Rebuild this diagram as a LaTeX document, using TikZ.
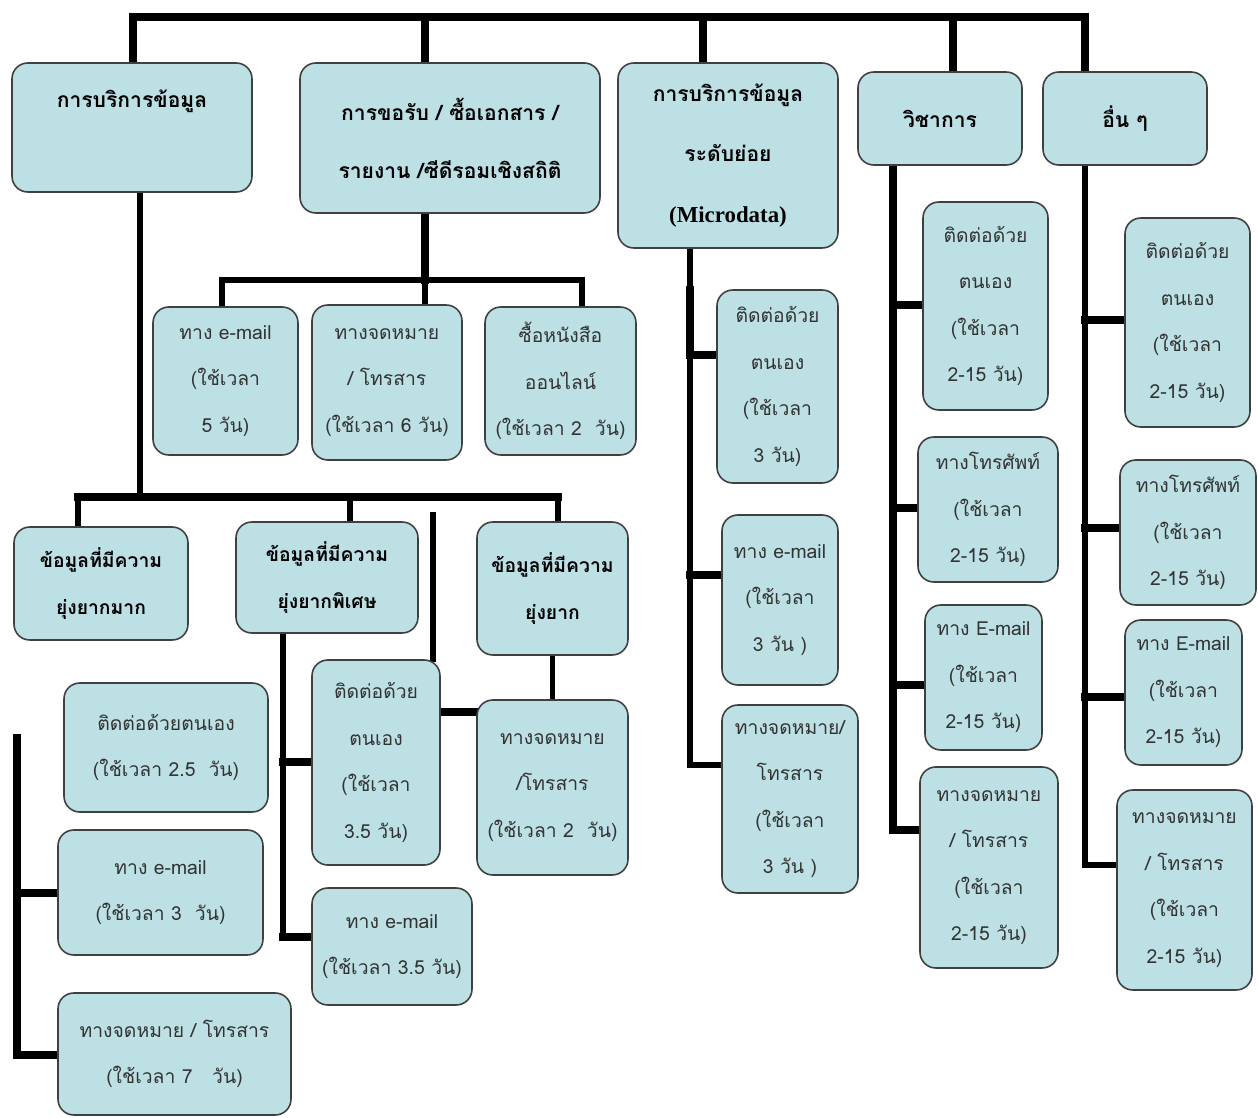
\documentclass[tikz,border=0pt]{standalone}
\usepackage{fontspec}
\setmainfont[Script=Thai]{Loma}
\newfontfamily\latinserif{Liberation Serif}
\usetikzlibrary{positioning,calc,backgrounds}
\definecolor{boxblue}{RGB}{188,224,228}

\begin{document}
\begin{tikzpicture}[x=0.02cm, y=-0.02cm,
    box/.style={draw=black!75, line width=0.9pt, fill=boxblue, rounded corners=9pt,
        align=center, inner sep=2pt, text=black!80, font=\fontsize{11}{26.5}\selectfont},
    head/.style={box, text=black, font=\bfseries\fontsize{12}{33}\selectfont},
    wh/.style 2 args={minimum width=#1*0.02cm, minimum height=#2*0.02cm},
    link/.style={line width=3.2pt, line cap=rect},
    trunk/.style={line width=4.5pt, line cap=rect}]
    \useasboundingbox (0,0) rectangle (1258,1118);

    % Top level
    \node [head, wh={240}{129}] (A) at (132,127.5) {การบริการข้อมูล\\ \mbox{}};
    \node [head, wh={300}{150}] (B) at (450,138) {การขอรับ / ซื้อเอกสาร /\\ รายงาน /ซีดีรอมเชิงสถิติ};
    \node [head, wh={220}{185}, font=\bfseries\fontsize{12}{34.5}\selectfont] (C) at (728,155.5)
        {การบริการข้อมูล\\ ระดับย่อย\\ {\latinserif\fontsize{13}{34.5}\selectfont (Microdata)}};
    \node [head, wh={164}{93}] (D) at (940,118.5) {วิชาการ};
    \node [head, wh={164}{93}] (E) at (1125,118.5) {อื่น ๆ};

    % Documents
    \node [box, wh={145}{148}] (B1) at (225.5,381) {ทาง e-mail\\ (ใช้เวลา\\ 5 วัน)};
    \node [box, wh={150}{155}] (B2) at (387,382.5) {ทางจดหมาย\\ / โทรสาร\\ (ใช้เวลา 6 วัน)};
    \node [box, wh={151}{148}] (B3) at (560.5,381) {ซื้อหนังสือ\\ ออนไลน์\\ (ใช้เวลา 2~~วัน)};

    % Data services
    \node [head, wh={174}{113}, font=\bfseries\fontsize{11}{26.5}\selectfont] (L1) at (101,583.5) {ข้อมูลที่มีความ\\ ยุ่งยากมาก};
    \node [head, wh={182}{111}, font=\bfseries\fontsize{11}{26.5}\selectfont] (L2) at (327,577.5) {ข้อมูลที่มีความ\\ ยุ่งยากพิเศษ};
    \node [head, wh={151}{133}, font=\bfseries\fontsize{11}{26.5}\selectfont] (L3) at (552.5,588.5) {ข้อมูลที่มีความ\\ ยุ่งยาก};

    \node [box, wh={204}{129}] (K1) at (166,747.5) {ติดต่อด้วยตนเอง\\ (ใช้เวลา 2.5~~วัน)};
    \node [box, wh={205}{125}] (K2) at (160.5,892.5) {ทาง e-mail\\ (ใช้เวลา 3~~วัน)};
    \node [box, wh={233}{122}] (K3) at (174.5,1054) {ทางจดหมาย / โทรสาร\\ (ใช้เวลา 7~~~วัน)};

    \node [box, wh={128}{205}] (M1) at (376,762.5) {ติดต่อด้วย\\ ตนเอง\\ (ใช้เวลา\\ 3.5 วัน)};
    \node [box, wh={160}{117}] (M2) at (392,946.5) {ทาง e-mail\\ (ใช้เวลา 3.5 วัน)};
    \node [box, wh={151}{175}] (N1) at (552.5,787.5) {ทางจดหมาย\\ /โทรสาร\\ (ใช้เวลา 2~~วัน)};

    % Microdata
    \node [box, wh={121}{193}] (C1) at (777.5,386.5) {ติดต่อด้วย\\ ตนเอง\\ (ใช้เวลา\\ 3 วัน)};
    \node [box, wh={116}{170}] (C2) at (780,600) {ทาง e-mail\\ (ใช้เวลา\\ 3 วัน )};
    \node [box, wh={136}{188}] (C3) at (790,799) {ทางจดหมาย/\\ โทรสาร\\ (ใช้เวลา\\ 3 วัน )};

    % Academic
    \node [box, wh={125}{208}] (D1) at (985.5,306) {ติดต่อด้วย\\ ตนเอง\\ (ใช้เวลา\\ 2-15 วัน)};
    \node [box, wh={140}{145}] (D2) at (988,509.5) {ทางโทรศัพท์\\ (ใช้เวลา\\ 2-15 วัน)};
    \node [box, wh={117}{145}] (D3) at (983.5,677.5) {ทาง E-mail\\ (ใช้เวลา\\ 2-15 วัน)};
    \node [box, wh={138}{201}] (D4) at (989,867.5) {ทางจดหมาย\\ / โทรสาร\\ (ใช้เวลา\\ 2-15 วัน)};

    % Others
    \node [box, wh={125}{209}] (E1) at (1187.5,322.5) {ติดต่อด้วย\\ ตนเอง\\ (ใช้เวลา\\ 2-15 วัน)};
    \node [box, wh={136}{145}] (E2) at (1188,532.5) {ทางโทรศัพท์\\ (ใช้เวลา\\ 2-15 วัน)};
    \node [box, wh={117}{145}] (E3) at (1183.5,692.5) {ทาง E-mail\\ (ใช้เวลา\\ 2-15 วัน)};
    \node [box, wh={135}{200}] (E4) at (1184.5,890) {ทางจดหมาย\\ / โทรสาร\\ (ใช้เวลา\\ 2-15 วัน)};

    % Joints
    \coordinate (t1) at (133,17);
    \coordinate (t2) at (425,17);
    \coordinate (t3) at (703,17);
    \coordinate (t4) at (953,17);
    \coordinate (t5) at (1085,17);
    \coordinate (a0) at (140,497);
    \coordinate (a1) at (78,497);
    \coordinate (a2) at (350,497);
    \coordinate (a3) at (558,497);
    \coordinate (b0) at (425,280);
    \coordinate (b1) at (222,280);
    \coordinate (b3) at (582,280);
    \coordinate (s0) at (433,515);
    \coordinate (k0) at (17,738);
    \coordinate (k2) at (17,893);
    \coordinate (k3) at (17,1055);
    \coordinate (m0) at (283,633);
    \coordinate (m1) at (283,762);
    \coordinate (m2) at (283,937);
    \coordinate (n1) at (460,712);
    \coordinate (c0) at (690,290);
    \coordinate (c1) at (690,355);
    \coordinate (c2) at (690,575);
    \coordinate (c3) at (690,765);
    \coordinate (d1) at (893,305);
    \coordinate (d2) at (893,508);
    \coordinate (d3) at (893,685);
    \coordinate (d4) at (893,830);
    \coordinate (e1) at (1085,320);
    \coordinate (e2) at (1085,528);
    \coordinate (e3) at (1085,697);
    \coordinate (e4) at (1085,865);

    % Connectors
    \begin{scope}[on background layer]
    \draw [trunk] (t1) -- (t5);
    \foreach \p/\n in {t1/A,t2/B,t3/C,t4/D,t5/E}
        \draw [trunk] (\p) -- (\p |- \n.north);
    \draw [link] (a0 |- A.south) -- (a0);
    \draw [trunk] (a1) -- (a3);
    \foreach \p/\n in {a1/L1,a2/L2,a3/L3}
        \draw [link] (\p) -- (\p |- \n.north);
    \draw [trunk] (b0 |- B.south) -- (b0);
    \draw [link] (b1) -- (b3);
    \foreach \p/\n in {b1/B1,b0/B2,b3/B3}
        \draw [link] (\p) -- (\p |- \n.north);
    \draw [link] (s0) -- (s0 |- M1.north);
    \draw [trunk] (k0) -- (k3) -- (k3 -| K3.west);
    \draw [trunk] (k2) -- (k2 -| K2.west);
    \draw [link] (m0) -- (m2);
    \draw [trunk] (m1) -- (m1 -| M1.west);
    \draw [trunk] (m2) -- (m2 -| M2.west);
    \draw [link] (L3.south) -- (N1.north);
    \draw [trunk] (n1 -| M1.east) -- (n1 -| N1.west);
    \draw [link] (c0 |- C.south) -- (c3) -- (c3 -| C3.west);
    \draw [trunk] (c0) -- (c1);
    \draw [trunk] (c1) -- (c1 -| C1.west);
    \draw [trunk] (c2) -- (c2 -| C2.west);
    \draw [trunk] (d4 |- D.south) -- (d4) -- (d4 -| D4.west);
    \foreach \p/\n in {d1/D1,d2/D2,d3/D3}
        \draw [trunk] (\p) -- (\p -| \n.west);
    \draw [link] (e4 |- E.south) -- (e4) -- (e4 -| E4.west);
    \foreach \p/\n in {e1/E1,e2/E2,e3/E3}
        \draw [trunk] (\p) -- (\p -| \n.west);
    \end{scope}
\end{tikzpicture}
\end{document}
